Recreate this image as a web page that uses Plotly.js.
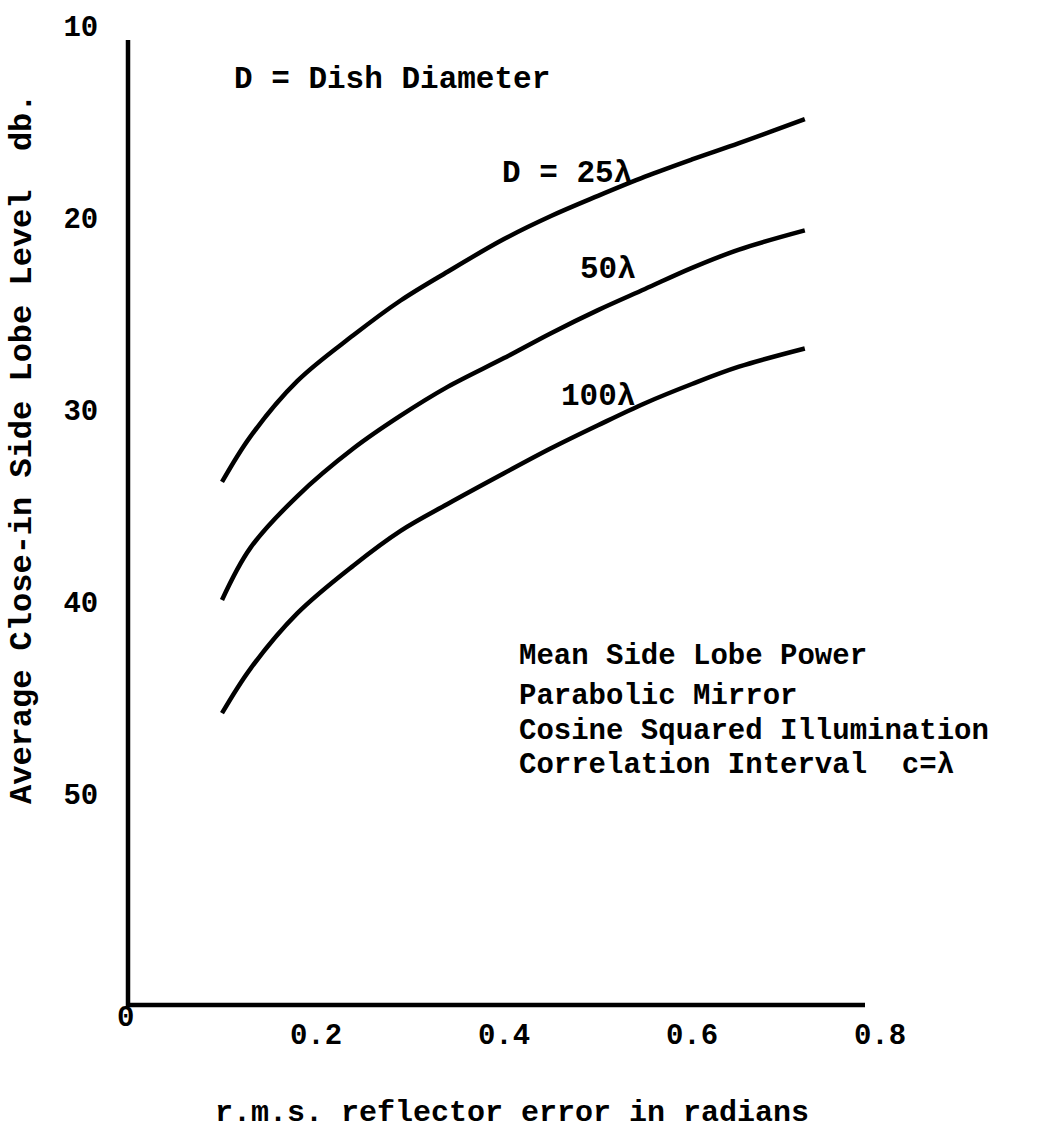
<!DOCTYPE html>
<html>
<head>
<meta charset="utf-8">
<script src="https://cdn.plot.ly/plotly-3.0.1.min.js"></script>
<style>
  html, body { margin: 0; padding: 0; background: #ffffff; }
  #chart { width: 1043px; height: 1130px; }
</style>
</head>
<body>
<div id="chart"></div>
<script>
// r.m.s. reflector error (radians)
const rmsError = [0.10, 0.13, 0.18, 0.24, 0.29, 0.34, 0.40, 0.45, 0.50, 0.55, 0.60, 0.65, 0.72];
// Average close-in side lobe level (db) for each dish diameter
const level25 = [33.75, 31.4, 28.5, 26.1, 24.3, 22.8, 21.1, 19.9, 18.85, 17.85, 16.95, 16.1, 14.85];
const level50 = [39.9, 37.2, 34.5, 32.0, 30.3, 28.8, 27.3, 26.0, 24.8, 23.7, 22.6, 21.65, 20.65];
const level100 = [45.8, 43.5, 40.6, 38.1, 36.3, 34.9, 33.3, 32.0, 30.8, 29.65, 28.65, 27.75, 26.8];

const seriesNames = ["D = 25λ", "50λ", "100λ"];
const xTickVals = [0.2, 0.4, 0.6, 0.8];
const xTickText = ["0.2", "0.4", "0.6", "0.8"];
const originLabel = "0";
const yTickVals = [10, 20, 30, 40, 50];
const yTickText = ["10", "20", "30", "40", "50"];

const noteLines = [
  "Mean Side Lobe Power",
  "Parabolic Mirror",
  "Cosine Squared Illumination",
  "Correlation Interval  c=λ"
];

const FONT = "Liberation Mono, Courier New, DejaVu Sans Mono, monospace";
const INK = "#000000";

const lineStyle = { color: INK, width: 4.5, shape: "spline", smoothing: 1 };
const traces = [level25, level50, level100].map((ys, i) => ({
  type: "scatter",
  mode: "lines",
  x: rmsError,
  y: ys,
  name: seriesNames[i],
  line: lineStyle,
  hoverinfo: "x+y+name"
}));

// plot area in pixels: left 128, top 26, width 752, height 979
function py(pix) { return (1005 - pix) / 979; }
function px(pix) { return (pix - 128) / 752; }

function note(text, x, y, size, xanchor) {
  return {
    text: "<b>" + text + "</b>",
    x: x, y: y, xref: "x", yref: "y",
    xanchor: xanchor || "left", yanchor: "middle",
    showarrow: false,
    font: { family: FONT, size: size, color: INK }
  };
}

const annotations = [
  note("D = Dish Diameter", 0.1106, 12.8, 31),
  note(seriesNames[0], 0.396, 17.66, 31),
  note(seriesNames[1], 0.479, 22.7, 31),
  note(seriesNames[2], 0.4585, 29.3, 31),
  note(noteLines[0], 0.414, 42.86, 29),
  note(noteLines[1], 0.414, 44.95, 29),
  note(noteLines[2], 0.414, 46.75, 29),
  note(noteLines[3], 0.414, 48.5, 29),
  {
    text: "<b>" + originLabel + "</b>",
    x: px(125), xref: "paper", y: py(1018), yref: "paper",
    xanchor: "center", yanchor: "middle", showarrow: false,
    font: { family: FONT, size: 29, color: INK }
  },
  {
    text: "<b>r.m.s. reflector error in radians</b>",
    x: px(512), xref: "paper", y: py(1113), yref: "paper",
    xanchor: "center", yanchor: "middle", showarrow: false,
    font: { family: FONT, size: 30, color: INK }
  },
  {
    text: "<b>Average Close-in Side Lobe Level  db.</b>",
    x: px(22), xref: "paper", xanchor: "center",
    y: py(449), yref: "paper", yanchor: "middle",
    textangle: -90, showarrow: false,
    font: { family: FONT, size: 32, color: INK }
  }
];

const layout = {
  width: 1043,
  height: 1130,
  margin: { l: 128, r: 163, t: 26, b: 125 },
  paper_bgcolor: "#ffffff",
  plot_bgcolor: "#ffffff",
  showlegend: false,
  font: { family: FONT, color: INK },
  xaxis: {
    range: [0, 0.8],
    showgrid: false,
    zeroline: false,
    showline: false,
    tickvals: xTickVals,
    ticktext: xTickText,
    ticks: "outside",
    ticklen: 3,
    tickcolor: "rgba(0,0,0,0)",
    tickfont: { family: FONT, size: 29, color: INK, weight: "bold" },
    title: { text: "" }
  },
  yaxis: {
    range: [61, 10],
    showgrid: false,
    zeroline: false,
    showline: false,
    tickvals: yTickVals,
    ticktext: yTickText,
    ticks: "outside",
    ticklen: 23,
    tickcolor: "rgba(0,0,0,0)",
    tickfont: { family: FONT, size: 29, color: INK, weight: "bold" },
    title: { text: "" }
  },
  shapes: [
    { type: "line", xref: "paper", yref: "paper", x0: 0, x1: 0, y0: py(40), y1: py(1007),
      line: { color: INK, width: 4.5 } },
    { type: "line", xref: "paper", yref: "paper", x0: px(126), x1: px(865), y0: py(1005), y1: py(1005),
      line: { color: INK, width: 4.5 } }
  ],
  annotations: annotations
};

Plotly.newPlot("chart", traces, layout, { displayModeBar: false, staticPlot: true });
</script>
</body>
</html>
